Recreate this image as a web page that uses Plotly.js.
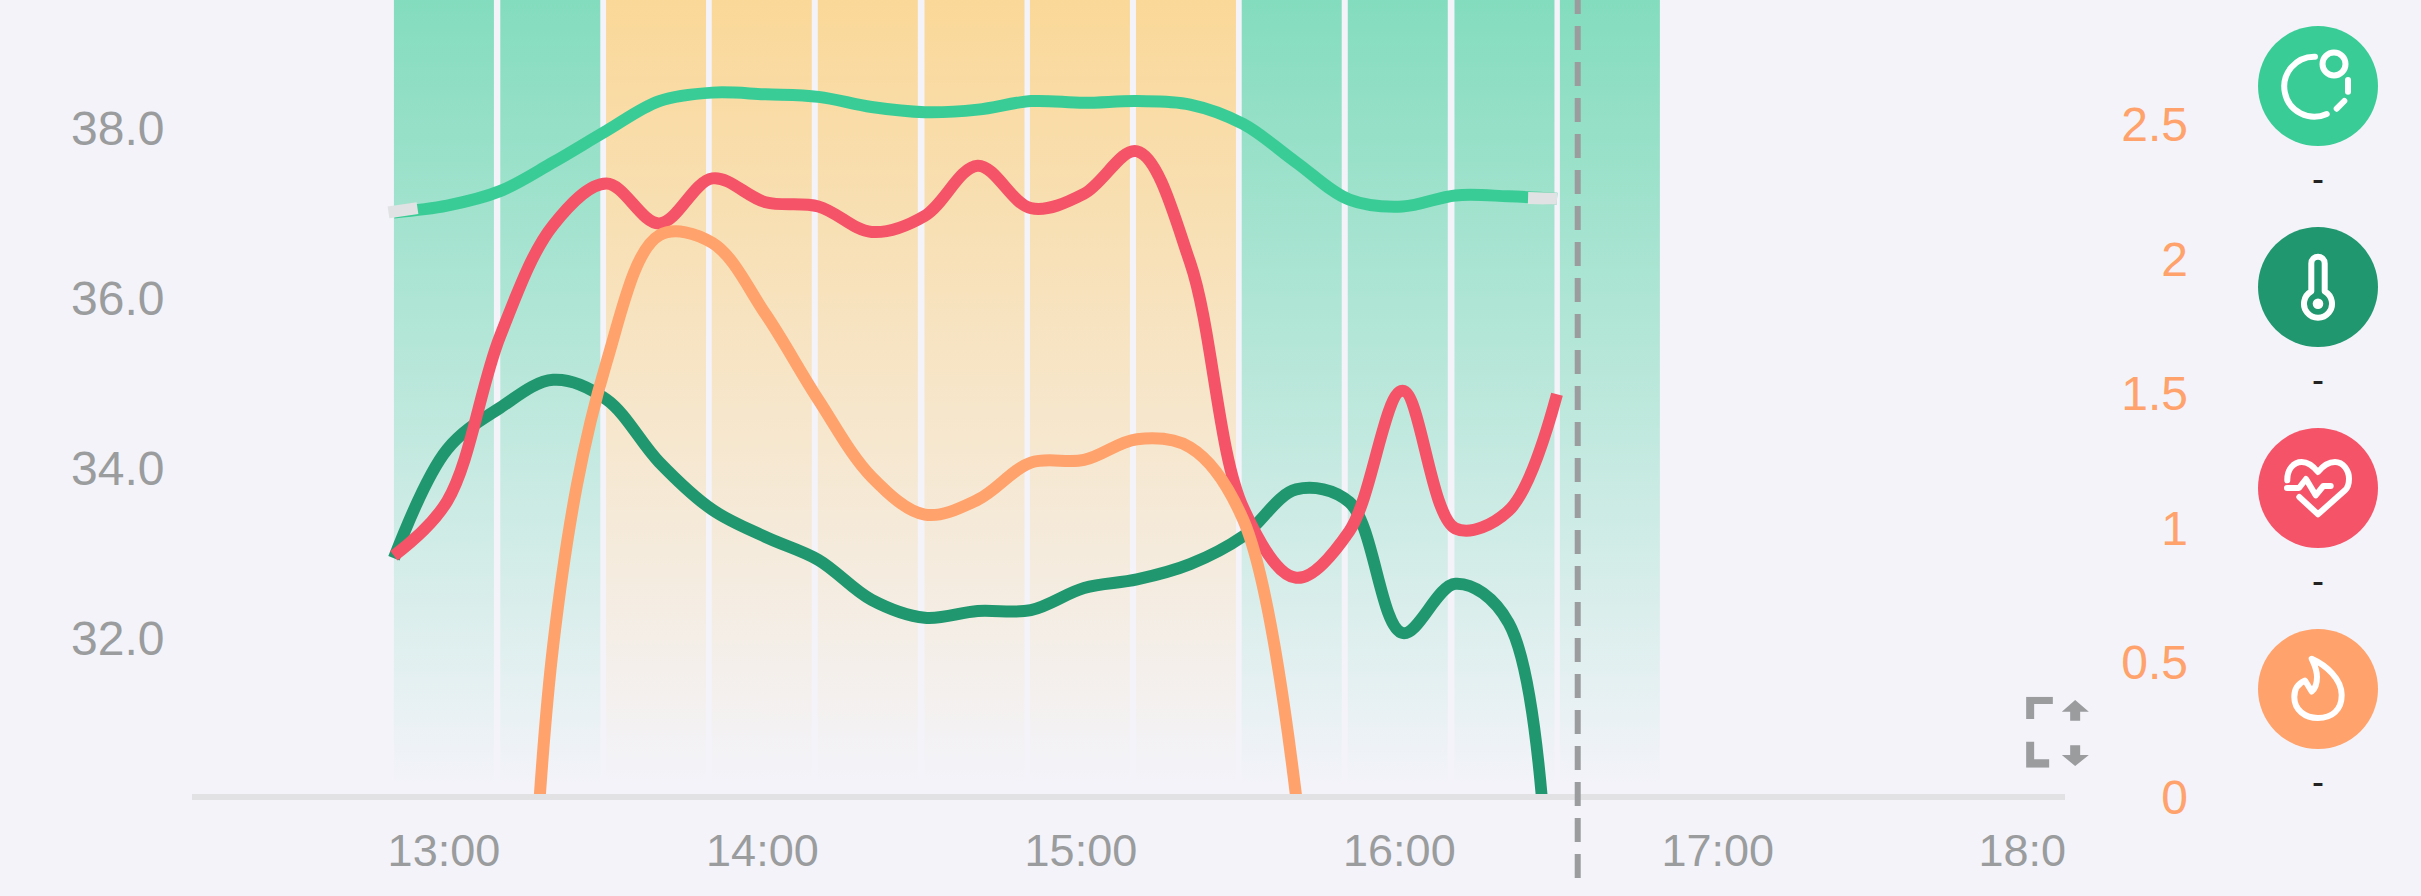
<!DOCTYPE html>
<html>
<head>
<meta charset="utf-8">
<script src="https://cdn.plot.ly/plotly-3.0.1.min.js"></script>
<style>html,body{margin:0;padding:0;background:#f3f3f9;overflow:hidden}#chart{width:2421px;height:896px}</style>
</head>
<body>
<div id="chart"></div>
<script>
// ---- data ----
const sampleHours = [12.843,13.010,13.176,13.343,13.510,13.676,13.843,14.010,14.176,14.343,14.510,14.676,14.843,15.010,15.176,15.343,15.510,15.676,15.843,16.010,16.176,16.343,16.495];
const skinTemp   = [37.01,37.09,37.26,37.60,37.97,38.32,38.42,38.40,38.37,38.25,38.19,38.22,38.32,38.30,38.32,38.28,38.05,37.60,37.16,37.08,37.21,37.20,37.17];
const coreTemp   = [32.94,34.22,34.71,35.04,34.81,34.07,33.51,33.19,32.92,32.45,32.24,32.32,32.33,32.59,32.69,32.87,33.20,33.75,33.60,32.06,32.64,32.18,25.8];
const heartRate  = [32.97,33.61,35.55,36.86,37.35,36.88,37.41,37.13,37.08,36.78,36.97,37.56,37.06,37.23,37.73,36.42,33.53,32.71,33.26,34.91,33.29,33.50,34.87];
const burnHours  = [13.176,13.343,13.510,13.676,13.843,14.010,14.176,14.343,14.510,14.676,14.843,15.010,15.176,15.343,15.510,15.676];
const burnRate   = [-3.6,0.563,1.614,2.088,2.06,1.795,1.476,1.19,1.05,1.105,1.243,1.253,1.33,1.30,1.03,0];
const skinGapStartHours = [12.826,12.917];
const skinGapStartVals  = [37.01,37.06];
const skinGapEndHours   = [16.404,16.495];
const skinGapEndVals    = [37.18,37.17];
const bandHours = [12.843,13.177,13.509,13.841,14.174,14.509,14.840,15.173,15.505,15.838,16.173,16.504];
const bandZones = ['g','g','o','o','o','o','o','o','g','g','g','g'];
const bandLength = 0.314;
const xTickVals = [13,14,15,16,17,17.956];
const xTickText = ['13:00','14:00','15:00','16:00','17:00','18:0'];
const yTickVals = [32,34,36,38];
const yTickText = ['32.0','34.0','36.0','38.0'];
const y2TickVals = [0,0.5,1,1.5,2,2.5];
const y2TickText = ['0','0.5','1','1.5','2','2.5'];
const nowHour = 16.56;
const legendMarks = ['-','-','-','-'];

// ---- styles ----
const W = 2421, H = 896;
const px = v => v / W, py = v => 1 - v / H;
const BG = '#f3f3f9', GREY = '#9a9c9e';
const LIGHT = '#3acc96', DARK = '#20976e', RED = '#f55368', ORANGE = '#ffa26b';
const yRange = [30.13, 39.51];
const traces = [];
bandHours.forEach((h, i) => {
  const rgb = bandZones[i] === 'g' ? '57,205,150' : '255,198,88';
  traces.push({
    x: [h, h + bandLength, h + bandLength, h, h],
    y: [yRange[0], yRange[0], yRange[1], yRange[1], yRange[0]],
    type: 'scatter', mode: 'none', fill: 'toself', hoverinfo: 'skip',
    fillgradient: { type: 'vertical', start: yRange[1], stop: yRange[0] + 0.15,
      colorscale: [[0, `rgba(${rgb},0.6)`], [1, `rgba(${rgb},0)`]] }
  });
});
const line = (x, y, color, yaxis) => ({ x, y, yaxis: yaxis || 'y', type: 'scatter', mode: 'lines', hoverinfo: 'skip',
  line: { color, width: 12, shape: 'spline', smoothing: 1 } });
traces.push(line(sampleHours, skinTemp, LIGHT));
traces.push(line(skinGapStartHours, skinGapStartVals, '#e1e2e3'));
traces.push(line(skinGapEndHours, skinGapEndVals, '#e1e2e3'));
traces.push(line(burnHours, burnRate, ORANGE, 'y2'));
traces.push(line(sampleHours, coreTemp, DARK));
traces.push(line(sampleHours, heartRate, RED));

const stroke = 'fill="none" stroke="#fff" stroke-width="6" stroke-linecap="round" stroke-linejoin="round"';
const icons = [
  { cy: 86, c: LIGHT, g: `<path d="M-3 -29.3 A30 30 0 1 0 8.7 28" ${stroke}/><circle cx="16" cy="-22" r="11.5" ${stroke}/><path d="M30 -6 V5.7" ${stroke}/><path d="M18.7 22.7 L26.3 15" ${stroke}/>` },
  { cy: 287, c: DARK, g: `<path d="M-6.7 4.4 V-23.6 A6.7 6.7 0 0 1 6.7 -23.6 V4.4 A14 14 0 1 1 -6.7 4.4 Z" ${stroke}/><circle cx="0" cy="16.7" r="5.3" fill="#fff"/>` },
  { cy: 488, c: RED, g: `<path d="M-30.7 -7.7 C-31 -19 -24 -26 -16.3 -26 C-9 -26 -4 -21 0 -16 C4 -21 9 -26 17 -26 C25 -26 31 -18 31 -9.3 C31 -4 29.5 0 27 2.3 L0 26.3 L-18.7 9" ${stroke}/><path d="M-31 0 H-19 L-12 -9 L-2.3 7.3 L5.3 -2 H12.7" ${stroke}/>` },
  { cy: 689, c: ORANGE, g: `<path d="M-6.3 -30.3 C8 -24 23.7 -10 23.7 6 C23.7 21 14 29 0 29 C-13 29 -23.7 21 -23.7 8 C-23.7 -1 -19 -6 -13 -8.5 L-6.3 2.5 C-2 -1 -1 -7 -1 -12 C-1 -20 -4 -25 -6.3 -30.3 Z" ${stroke}/>` }
];
const svgUrl = s => 'data:image/svg+xml;charset=utf-8,' + encodeURIComponent(s);
const images = icons.map(ic => ({
  source: svgUrl(`<svg xmlns="http://www.w3.org/2000/svg" width="124" height="124" viewBox="-62 -62 124 124"><circle r="60" fill="${ic.c}"/>${ic.g}</svg>`),
  xref: 'paper', yref: 'paper', x: px(2318), y: py(ic.cy), sizex: 124 / W, sizey: 124 / H,
  xanchor: 'center', yanchor: 'middle', sizing: 'stretch', layer: 'above'
}));
images.push({
  source: svgUrl(`<svg xmlns="http://www.w3.org/2000/svg" width="63" height="71" viewBox="138 80 188 213"><g fill="${GREY}"><path d="M138 80 H218 V102 H162 V147 H138 Z"/><path d="M138 215 H162 V268 H207 V293 H138 Z"/><path d="M285 90 L326 125 H300 V152 H270 V125 H245 Z"/><path d="M285 288 L326 255 H300 V226 H270 V255 H245 Z"/></g></svg>`),
  xref: 'paper', yref: 'paper', x: px(2026), y: py(696.7), sizex: 63 / W, sizey: 71 / H,
  xanchor: 'left', yanchor: 'top', sizing: 'stretch', layer: 'above'
});

const markY = [178.5, 379.5, 580.5, 781.5];
const annotations = legendMarks.map((t, i) => ({
  text: t, xref: 'paper', yref: 'paper', x: px(2318), y: py(markY[i]), xanchor: 'center', yanchor: 'middle',
  showarrow: false, font: { family: 'Liberation Sans', size: 36, color: '#222' }
}));

const layout = {
  width: W, height: H, paper_bgcolor: BG, plot_bgcolor: BG, showlegend: false,
  margin: { l: 0, r: 0, t: 0, b: 0, pad: 0 },
  font: { family: 'Liberation Sans, Helvetica, Arial, sans-serif', color: GREY },
  xaxis: { domain: [px(192), px(2065)], range: [12.209, 18.09], tickmode: 'array', tickvals: xTickVals, ticktext: xTickText,
    showgrid: false, zeroline: false, showline: false, ticks: 'outside', ticklen: 14, tickcolor: 'rgba(0,0,0,0)',
    tickfont: { size: 45, color: GREY }, automargin: false },
  yaxis: { domain: [1 - 797 / H, 1], range: yRange, anchor: 'free', position: px(164.5), side: 'left',
    tickmode: 'array', tickvals: yTickVals, ticktext: yTickText, showgrid: false, zeroline: false, showline: false,
    ticks: '', tickfont: { size: 48, color: GREY }, automargin: false },
  yaxis2: { domain: [1 - 797 / H, 1], range: [0, 2.963], overlaying: 'y', anchor: 'free', position: px(2188), side: 'left',
    tickmode: 'array', tickvals: y2TickVals, ticktext: y2TickText, showgrid: false, zeroline: false, showline: false,
    ticks: '', tickfont: { size: 48, color: ORANGE }, automargin: false },
  shapes: [
    { type: 'line', layer: 'above', xref: 'paper', yref: 'paper', x0: px(192), x1: px(2065), y0: py(797), y1: py(797),
      line: { color: '#e2e2e4', width: 6 } },
    { type: 'line', layer: 'above', xref: 'x', yref: 'paper', x0: nowHour, x1: nowHour, y0: 1 + 10 / H, y1: py(878),
      line: { color: GREY, width: 6, dash: '24px,12px' } }
  ],
  images, annotations
};
Plotly.newPlot('chart', traces, layout, { displayModeBar: false, staticPlot: true });
</script>
</body>
</html>
